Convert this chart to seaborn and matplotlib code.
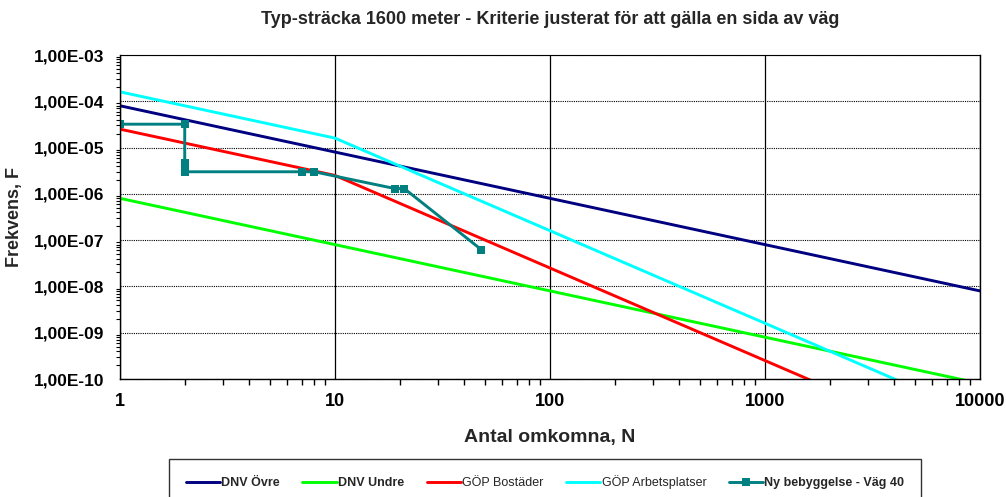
import numpy as np
import pandas as pd
import matplotlib
matplotlib.use("Agg")
import matplotlib.pyplot as plt
from matplotlib.ticker import LogLocator, FuncFormatter, NullFormatter
import seaborn as sns

# ---- data ----
dnv_ovre_x = [1, 10000]
dnv_ovre_y = [8e-5, 8e-9]
dnv_undre_x = [1, 10000]
dnv_undre_y = [8e-7, 8e-11]
gop_bost_x = [1, 10, 10000]
gop_bost_y = [2.5e-5, 2.5e-6, 2.5e-12]
gop_arb_x = [1, 10, 10000]
gop_arb_y = [1.6e-4, 1.6e-5, 1.6e-11]
ny_x = [1, 2, 2, 2, 2, 7, 8, 19, 21, 48]
ny_y = [3.2e-5, 3.2e-5, 4.6e-6, 3.6e-6, 3.0e-6, 3.0e-6, 3.0e-6, 1.3e-6, 1.3e-6, 6.2e-8]

title = "Typ-sträcka 1600 meter - Kriterie justerat för att gälla en sida av väg"
xlabel = "Antal omkomna, N"
ylabel = "Frekvens, F"
labels = ["DNV Övre", "DNV Undre", "GÖP Bostäder", "GÖP Arbetsplatser", "Ny bebyggelse - Väg 40"]
bold_labels = {"DNV Övre", "DNV Undre", "Ny bebyggelse - Väg 40"}

sns.set_theme(style="white")
plt.rcParams['font.family'] = ['Liberation Sans', 'DejaVu Sans']

fig = plt.figure(figsize=(10.06, 4.97), dpi=100)
ax = fig.add_axes([120/1006, 1-379/497, (980-120)/1006, (379-55)/497])

lw = 2.1
series = [
    (dnv_ovre_x, dnv_ovre_y, "#000080", labels[0], None),
    (dnv_undre_x, dnv_undre_y, "#00FF00", labels[1], None),
    (gop_bost_x, gop_bost_y, "#FF0000", labels[2], None),
    (gop_arb_x, gop_arb_y, "#00FFFF", labels[3], None),
    (ny_x, ny_y, "#008080", labels[4], "s"),
]
for xs, ys, c, lab, mk in series:
    df = pd.DataFrame({"x": xs, "y": ys})
    sns.lineplot(data=df, x="x", y="y", ax=ax, color=c, lw=lw, label=lab,
                 sort=False, estimator=None, marker=mk,
                 markersize=6.2 if mk else 0, markeredgewidth=0)

ax.set_xscale("log")
ax.set_yscale("log")
ax.set_xlim(1, 10000)
ax.set_ylim(1e-10, 1e-3)

ax.xaxis.set_major_locator(LogLocator(base=10, numticks=10))
ax.xaxis.set_minor_locator(LogLocator(base=10, subs=np.arange(2, 10), numticks=20))
ax.yaxis.set_major_locator(LogLocator(base=10, numticks=12))
ax.yaxis.set_minor_locator(LogLocator(base=10, subs=np.arange(2, 10), numticks=20))
ax.xaxis.set_major_formatter(FuncFormatter(lambda v, p: f"{v:.0f}"))
ax.yaxis.set_major_formatter(FuncFormatter(
    lambda v, p: ("%.2E" % v).replace(".", ",")))
ax.xaxis.set_minor_formatter(NullFormatter())
ax.yaxis.set_minor_formatter(NullFormatter())

ax.grid(True, axis="y", which="major", color="black", linestyle=(0, (1, 1)), lw=0.8)
ax.grid(True, axis="x", which="major", color="black", linestyle="-", lw=0.9)
ax.set_axisbelow(True)

for s in ["left", "bottom", "right"]:
    ax.spines[s].set_color("black")
    ax.spines[s].set_linewidth(1.0)
ax.spines["top"].set_color("black")
ax.spines["top"].set_linestyle((0, (1, 1)))
ax.spines["top"].set_linewidth(0.8)

ax.tick_params(axis="both", which="both", colors="black")
ax.tick_params(axis="x", which="major", direction="inout", length=8, width=1,
               labelsize=13, pad=6)
ax.tick_params(axis="x", which="minor", direction="out", length=4, width=1,
               bottom=True)
ax.tick_params(axis="y", which="major", direction="out", length=5, width=1,
               labelsize=12.5, pad=6)
ax.tick_params(axis="y", which="minor", direction="out", length=3, width=0.8,
               left=True)
for t in ax.get_xticklabels() + ax.get_yticklabels():
    t.set_fontweight("bold")

ax.set_xlabel(xlabel, fontsize=14, fontweight="bold", labelpad=14)
ax.set_ylabel(ylabel, fontsize=13, fontweight="bold", labelpad=8)
ax.set_title(title, fontsize=13, fontweight="bold", pad=22)

ax.get_legend().remove()
handles, labs = ax.get_legend_handles_labels()
leg = fig.legend(handles, labs, loc="upper center", ncol=5,
                 bbox_to_anchor=(545/1006, 1-459/497), frameon=True,
                 fancybox=False, edgecolor="black", fontsize=9,
                 handlelength=2.75, handletextpad=0.1, columnspacing=1.8,
                 borderpad=1.3, borderaxespad=0)
leg.get_frame().set_linewidth(1.0)
for t in leg.get_texts():
    if t.get_text() in bold_labels:
        t.set_fontweight("bold")

fig.savefig("out.png", dpi=100)
